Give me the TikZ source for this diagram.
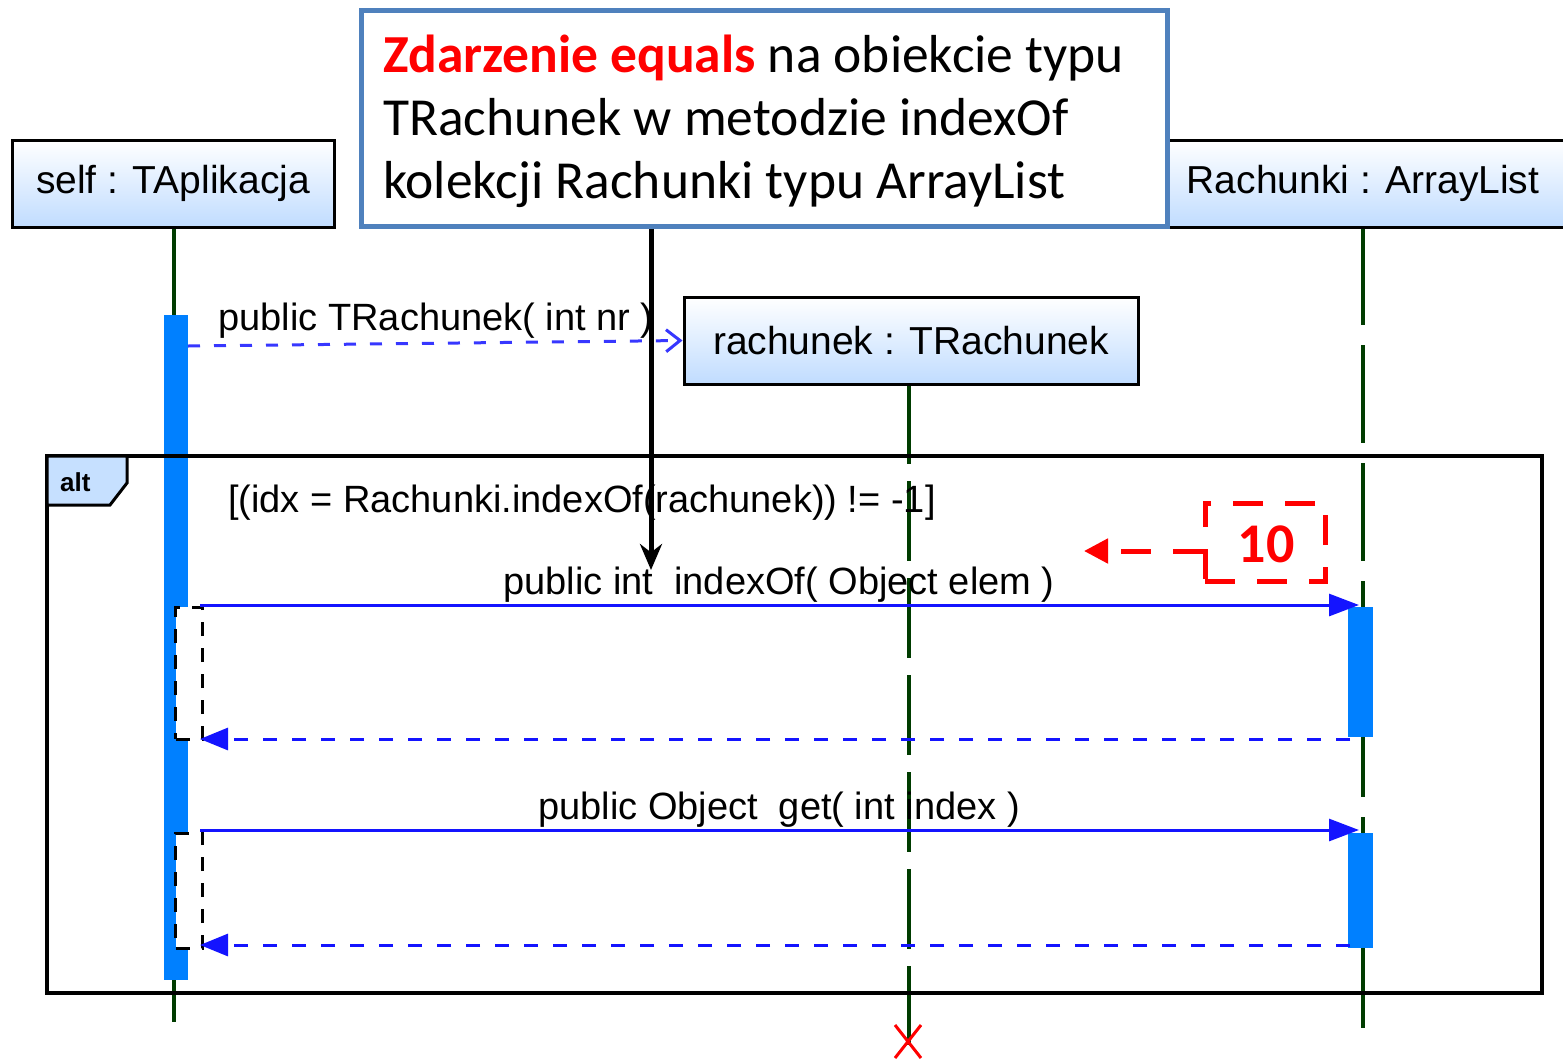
\documentclass[tikz,border=0pt]{standalone}
\usepackage{fontspec}
\usetikzlibrary{arrows.meta}
\newfontfamily\umlfont{Liberation Sans}
\newfontfamily\notefont{Carlito}

\definecolor{boxblue}{RGB}{192,220,255}
\definecolor{tagblue}{RGB}{198,224,255}
\definecolor{actblue}{RGB}{0,128,255}
\definecolor{msgblue}{RGB}{20,20,255}
\definecolor{lifegreen}{RGB}{0,60,0}
\definecolor{noteborder}{RGB}{79,129,189}

\tikzset{
  objbox/.style={draw=black, line width=3pt, shade, top color=white, bottom color=boxblue,
    inner sep=0pt, font=\umlfont\fontsize{39}{46}\selectfont},
  lifeline/.style={draw=lifegreen, line width=3.5pt},
  actbar/.style={fill=actblue, draw=none, inner sep=0pt},
  dashbox/.style={fill=white, draw=black, line width=3pt, dash pattern=on 14pt off 12pt, inner sep=0pt},
  msg/.style={draw=msgblue, line width=3pt, -{Triangle[length=30pt,width=22pt]}},
  ret/.style={draw=msgblue, line width=3pt, dash pattern=on 14pt off 15pt, -{Triangle[length=28pt,width=22pt]}},
  create/.style={draw=msgblue!85, line width=3pt, dash pattern=on 12pt off 14pt,
    -{Straight Barb[length=14pt,width=22pt]}},
  umltext/.style={inner sep=0pt, anchor=base, font=\umlfont\fontsize{38}{44}\selectfont},
  notetext/.style={inner sep=0pt, anchor=base west, font=\notefont\fontsize{53.5}{60}\selectfont},
  redmark/.style={draw=red, line width=5pt, dash pattern=on 30pt off 22pt},
}

\begin{document}
\begin{tikzpicture}[x=1pt,y=-1pt]
\useasboundingbox (0,0) rectangle (1563,1058);

% lifelines
\draw[lifeline] (174,227) -- (174,1022);
\draw[lifeline, dash pattern=on 98pt off 20pt] (1363,227) -- (1363,1028);
\draw[lifeline, dash pattern=on 80pt off 17pt] (909,384) -- (909,1045);

% object boxes
\node[objbox, minimum width=322pt, minimum height=87pt] (self) at (173,183.5) {self : TAplikacja};
\node[objbox, minimum width=426pt, minimum height=87pt] (arr) at (1363,183.5) {Rachunki : ArrayList};
\node[objbox, minimum width=454pt, minimum height=87pt] (rach) at (911,340.5) {rachunek : TRachunek};

% destruction mark
\draw[red, line width=3pt] (895,1025) -- (921,1058) (921,1025) -- (895,1058);

% activation of the caller
\node[actbar, minimum width=24pt, minimum height=665pt] (act0) at (176,647.5) {};

% creation message
\coordinate (c0) at (188,346);
\draw[create] (c0) -- (rach.west);
\node[umltext] (clabel) at (436,330) {public TRachunek( int nr )};

% alt fragment
\draw[line width=3.5pt] (47,456) rectangle (1542,993);
\draw[line width=3pt, fill=tagblue] (47,456) -- (127,456) -- (127,483) -- (110,505) -- (47,505) -- cycle;
\node[inner sep=0pt, anchor=base west, font=\umlfont\bfseries\fontsize{26}{30}\selectfont] (alt) at (60,491) {alt};
\node[umltext, anchor=base west] (guard) at (228,512) {[(idx = Rachunki.indexOf(rachunek)) != -1]};

% first call: indexOf
\node[dashbox, minimum width=27pt, minimum height=132pt] (w1) at (189,673) {};
\node[actbar, minimum width=25pt, minimum height=130pt] (act1) at (1360.5,672) {};
\coordinate (m1a) at (200,605);
\coordinate (m1b) at (1359,605);
\draw[msg] (m1a) -- (m1b);
\node[umltext] (m1label) at (779,594) {public int\ \ indexOf( Object elem )};
\coordinate (r1a) at (1350,739);
\coordinate (r1b) at (200,739);
\draw[ret] (r1a) -- (r1b);

% second call: get
\node[dashbox, minimum width=27pt, minimum height=115pt] (w2) at (189,890.5) {};
\node[actbar, minimum width=25pt, minimum height=115pt] (act2) at (1360.5,890.5) {};
\coordinate (m2a) at (200,830);
\coordinate (m2b) at (1359,830);
\draw[msg] (m2a) -- (m2b);
\node[umltext] (m2label) at (779,819) {public Object\ \ get( int index )};
\coordinate (r2a) at (1350,945);
\coordinate (r2b) at (200,945);
\draw[ret] (r2a) -- (r2b);

% step marker
\node[redmark, minimum width=120pt, minimum height=78pt, inner sep=0pt] (step10) at (1265,542) {};
\node[inner sep=0pt, text=red, font=\notefont\bfseries\fontsize{56}{60}\selectfont] (num) at (1266,544) {10};
\coordinate (tip10) at (1084,551);
\draw[redmark, -{Triangle[length=24pt,width=24pt]}] (step10.west |- tip10) -- (tip10);

% comment box
\node[draw=noteborder, line width=5pt, fill=white, minimum width=806pt, minimum height=216pt, inner sep=0pt] (note) at (764,118) {};
\node[notetext] (n1) at (383,72) {\textcolor{red}{\bfseries Zdarzenie equals} na obiekcie typu};
\node[notetext] (n2) at (383,135) {TRachunek w metodzie indexOf};
\node[notetext] (n3) at (383,198) {kolekcji Rachunki typu ArrayList};
\coordinate (ptr) at (651,570);
\draw[line width=5pt, -{Stealth[length=26pt,width=22pt]}] (note.south -| ptr) -- (ptr);
\end{tikzpicture}
\end{document}
